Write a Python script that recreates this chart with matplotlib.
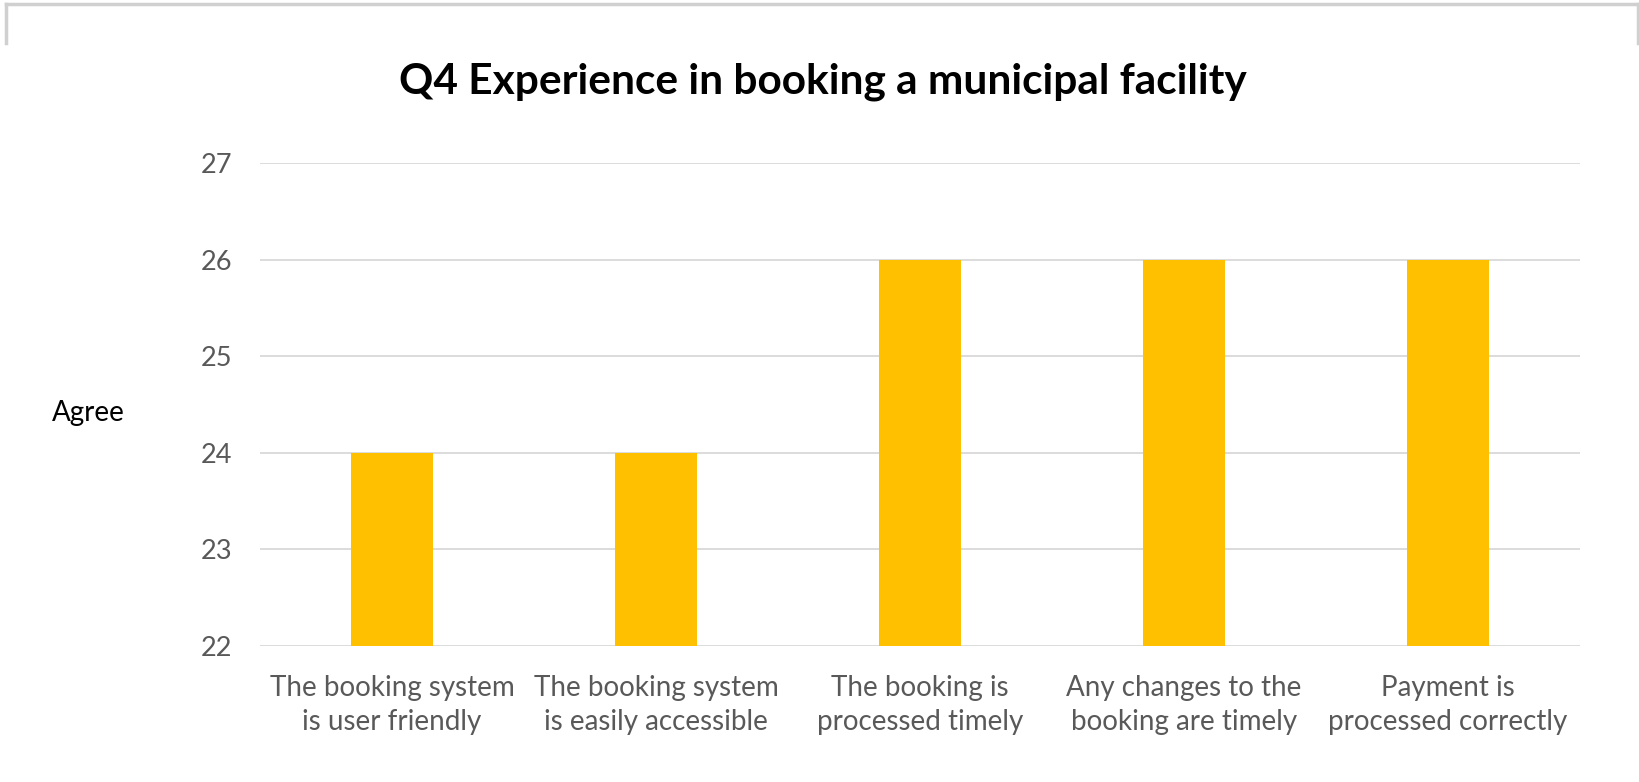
import matplotlib

matplotlib.use("Agg")

import matplotlib.pyplot as plt
from matplotlib.lines import Line2D

categories = [
    "The booking system\nis user friendly",
    "The booking system\nis easily accessible",
    "The booking is\nprocessed timely",
    "Any changes to the\nbooking are timely",
    "Payment is\nprocessed correctly",
]
agree = [24, 24, 26, 26, 26]
y_ticks = [22, 23, 24, 25, 26, 27]

plt.rcParams["font.family"] = ["Lato", "DejaVu Sans"]

fig = plt.figure(figsize=(16.4, 7.82), dpi=100)
ax = fig.add_axes([260 / 1640, 1 - 646 / 782, 1320 / 1640, (646 - 163) / 782])

x = list(range(len(categories)))
ax.bar(x, agree, width=0.31, color="#FFC000", zorder=3)
ax.set_xlim(-0.5, len(categories) - 0.5)
ax.set_ylim(y_ticks[0], y_ticks[-1])
ax.set_yticks(y_ticks)
ax.set_xticks(x)
ax.set_xticklabels(categories, fontsize=20, color="#595959", linespacing=1.36)
ax.tick_params(axis="y", labelsize=19.5, labelcolor="#595959", length=0, pad=20)
ax.tick_params(axis="x", length=0, pad=21)
ax.grid(axis="y", color="#D9D9D9", linewidth=1.3, zorder=0)
for s in ax.spines.values():
    s.set_visible(False)

fig.text(823 / 1640, 1 - 82 / 782, "Q4 Experience in booking a municipal facility",
         ha="center", va="center", fontsize=30.5, fontweight="bold", color="black")
fig.text(88 / 1640, 1 - 413 / 782, "Agree", ha="center", va="center",
         fontsize=20, color="black")

# thin frame remnant along the top edge
border = dict(color="#D0D0D0", linewidth=2.5, transform=fig.transFigure)
fig.add_artist(Line2D([6 / 1640, 1638 / 1640], [1 - 4 / 782, 1 - 4 / 782], **border))
fig.add_artist(Line2D([6 / 1640, 6 / 1640], [1 - 4 / 782, 1 - 43 / 782], **border))
fig.add_artist(Line2D([1638 / 1640, 1638 / 1640], [1 - 4 / 782, 1 - 43 / 782], **border))

fig.savefig("out.png", dpi=100)
